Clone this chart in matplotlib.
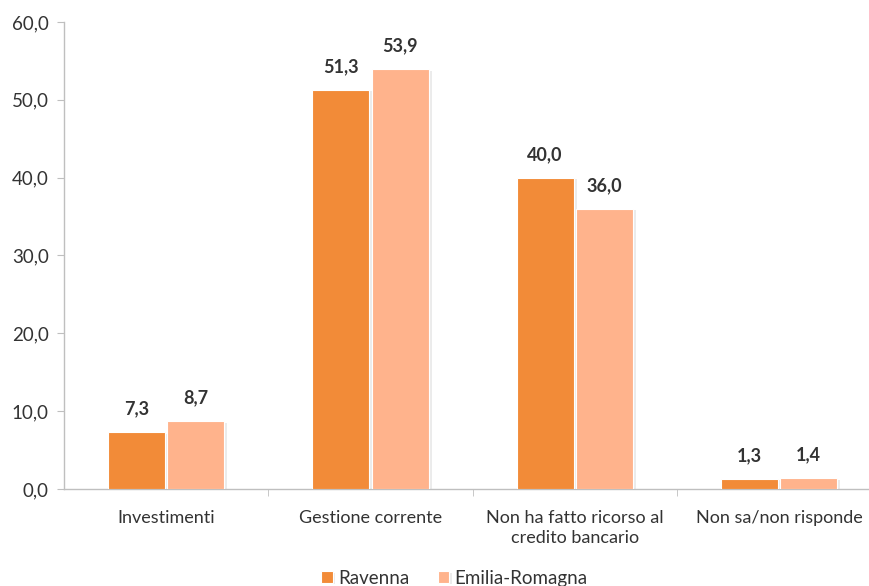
import matplotlib
matplotlib.use("Agg")
import matplotlib.pyplot as plt
import matplotlib.patheffects as pe
import numpy as np

categories = ["Investimenti", "Gestione corrente",
              "Non ha fatto ricorso al\ncredito bancario", "Non sa/non risponde"]
ravenna = [7.3, 51.3, 40.0, 1.3]
emilia = [8.7, 53.9, 36.0, 1.4]
series_names = ["Ravenna", "Emilia-Romagna"]

plt.rcParams['font.family'] = ['Lato', 'DejaVu Sans']

def fmt(v):
    return f"{v:.1f}".replace(".", ",")

fig = plt.figure(figsize=(8.69, 5.86), dpi=100)
ax = fig.add_axes([0.0737, 0.1655, 0.9263, 0.797])

x = np.arange(len(categories))
w = 0.28
off = 0.145
shadow = [pe.SimplePatchShadow(offset=(2, -1), shadow_rgbFace='#c8c8c8', alpha=0.35), pe.Normal()]
b1 = ax.bar(x - off, ravenna, w, color='#F28B38', edgecolor='white', linewidth=0.8,
            label=series_names[0], path_effects=shadow, zorder=3)
b2 = ax.bar(x + off, emilia, w, color='#FFB38C', edgecolor='white', linewidth=0.8,
            label=series_names[1], path_effects=shadow, zorder=3)

for bars, vals in ((b1, ravenna), (b2, emilia)):
    for b, v in zip(bars, vals):
        ax.text(b.get_x() + b.get_width() / 2, v + 1.9, fmt(v), ha='center', va='bottom',
                fontsize=13, fontweight='bold', color='#333333')

ax.set_ylim(0, 60)
ax.set_xlim(-0.5, 3.44)
ax.set_yticks(np.arange(0, 61, 10))
ax.set_yticklabels([fmt(v) for v in np.arange(0, 61, 10)], fontsize=13.5, color='#333333')
ax.set_xticks(x)
ax.set_xticklabels(categories, fontsize=13, color='#333333', linespacing=1.3)
ax.set_xticks([0.5, 1.5, 2.5], minor=True)
ax.tick_params(axis='x', which='major', length=0, pad=15)
ax.tick_params(axis='x', which='minor', length=5, color='#bfbfbf', direction='out')
ax.tick_params(axis='y', length=5, color='#bfbfbf', pad=6)

for s in ('top', 'right'):
    ax.spines[s].set_visible(False)
for s in ('left', 'bottom'):
    ax.spines[s].set_color('#bfbfbf')
    ax.spines[s].set_linewidth(1.0)

fig.legend(handles=[b1, b2], labels=series_names, loc='lower center', ncol=2,
           bbox_to_anchor=(0.523, -0.03), frameon=False, fontsize=13.5,
           handlelength=0.6, handleheight=0.6, handletextpad=0.3, columnspacing=1.5,
           labelcolor='#333333')

fig.savefig("out.png", dpi=100)
